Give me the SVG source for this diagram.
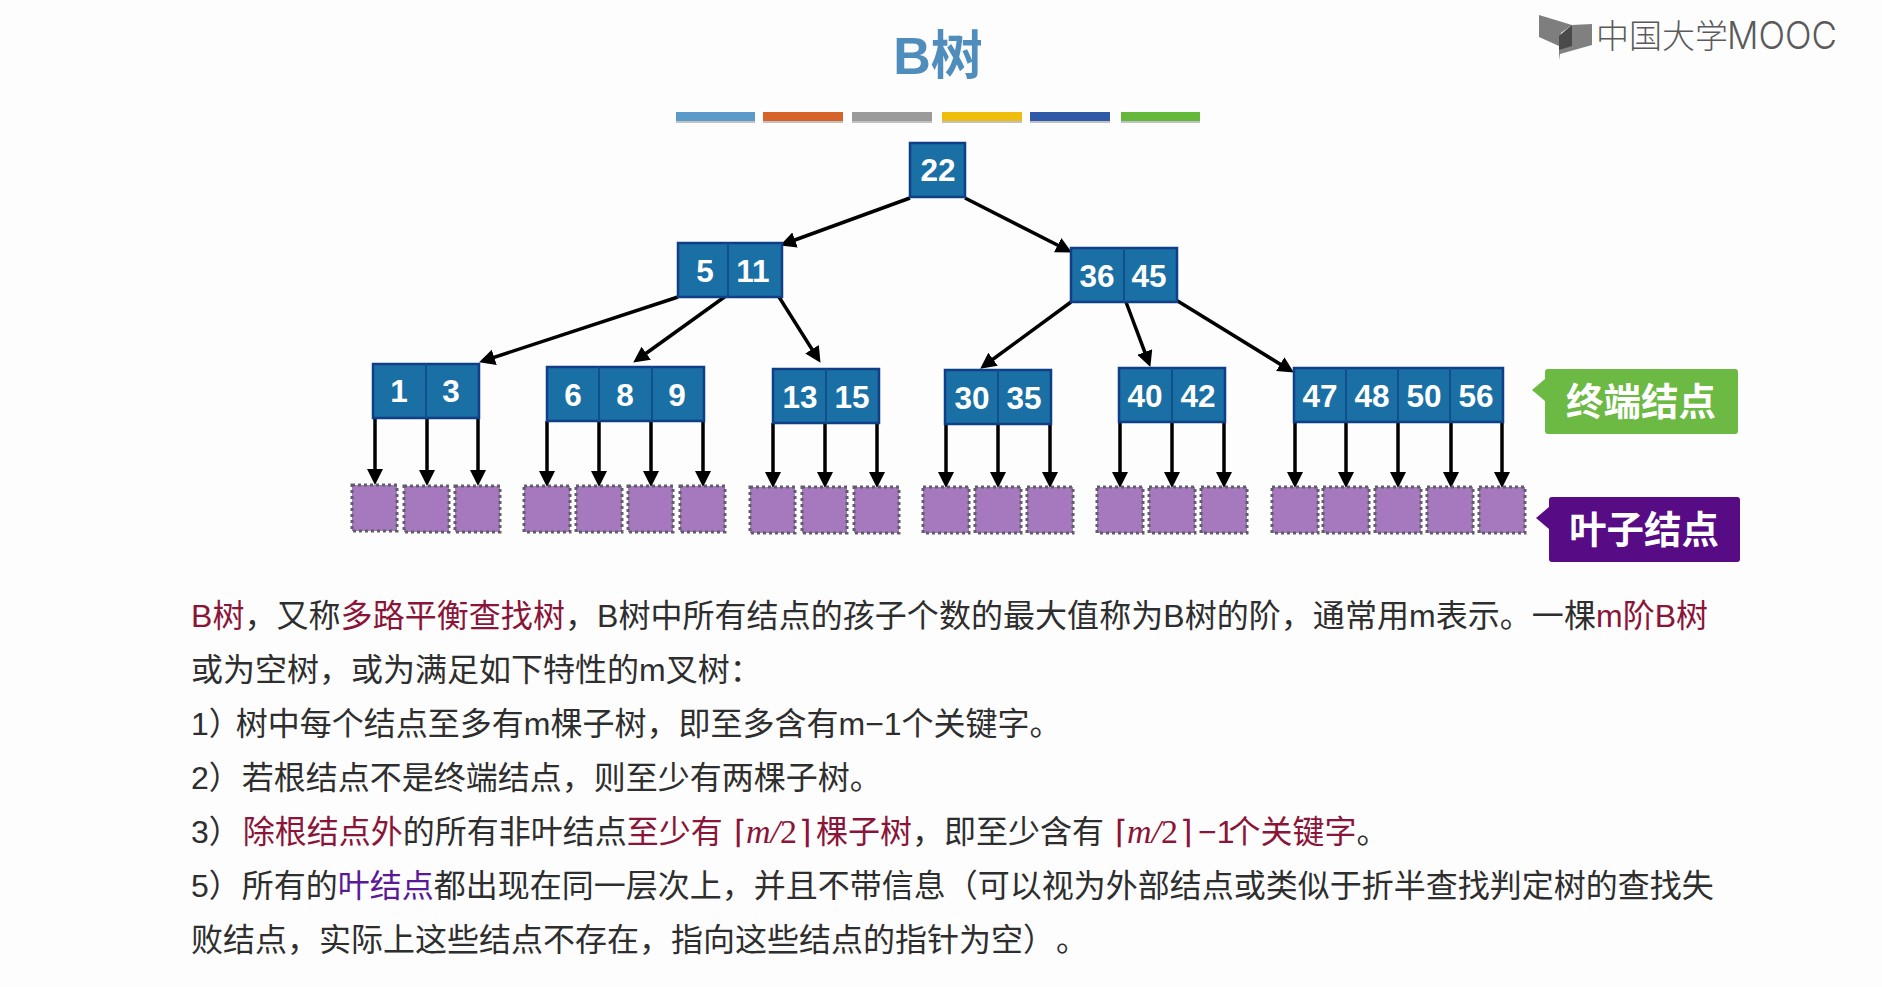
<svg xmlns="http://www.w3.org/2000/svg" width="1882" height="987" viewBox="0 0 1882 987">
<style>
text{font-family:"Liberation Sans","Noto Sans CJK SC",sans-serif}
.n{fill:#1a70a4;stroke:#0f3f86;stroke-width:2.5}
.d{stroke:#0f4f8a;stroke-width:2;fill:none}
.k{fill:#fff;font-size:31.5px;font-weight:bold;text-anchor:middle}
.leaf{fill:#a678bd;stroke:#5f5f6a;stroke-width:3;stroke-dasharray:3 3}
.c{stroke:#000;stroke-width:3.5;fill:none;marker-end:url(#ah)}
.t{font-size:32px;fill:#2e2e2e}
.r{fill:#8a1538}
.p{fill:#5a1a96}
.m{font-family:"Liberation Serif","DejaVu Serif",serif;font-size:34px;fill:#8a1538}
.i{font-style:italic}
.b{font-family:"DejaVu Sans",sans-serif;font-size:32px;fill:#8a1538;font-weight:200}
.tag{fill:#fff;font-size:37.5px;font-weight:bold;text-anchor:middle}
</style>
<defs>
<marker id="ah" markerUnits="userSpaceOnUse" markerWidth="17" markerHeight="17" refX="9" refY="8" orient="auto"><path d="M0,0L16,8L0,16Z" fill="#000"/></marker>
</defs>
<rect width="1882" height="987" fill="#fdfdfd"/>
<g id="logo">
<path d="M1539,15L1572,25L1561,33L1559,46L1539,37Z" fill="#7e7e7e"/>
<path d="M1572,25L1592,24V45L1560,54L1559,60V36Z" fill="#808080"/>
<path d="M1572,25V46L1559,50V36Z" fill="#4a4a4a"/>
<text x="1596" y="48" font-size="33" fill="#5a5a5a" style="font-weight:300">中国大学</text>
<text x="1727" y="49" font-size="38" fill="#5a5a5a" textLength="110" lengthAdjust="spacingAndGlyphs" style="font-family:'Inter','Liberation Sans',sans-serif;font-weight:300">MOOC</text>
</g>
<g id="title">
<text x="938" y="74" font-size="52" font-weight="bold" fill="#4f8dbd" text-anchor="middle">B树</text>
</g>
<g id="bars">
<rect x="676" y="114" width="79" height="9" fill="#999" opacity=".6"/><rect x="676" y="112" width="79" height="9" fill="#5b9bc9"/>
<rect x="763" y="114" width="80" height="9" fill="#999" opacity=".6"/><rect x="763" y="112" width="80" height="9" fill="#d5632a"/>
<rect x="852" y="114" width="80" height="9" fill="#999" opacity=".6"/><rect x="852" y="112" width="80" height="9" fill="#9a9a9a"/>
<rect x="942" y="114" width="80" height="9" fill="#999" opacity=".6"/><rect x="942" y="112" width="80" height="9" fill="#efbe0c"/>
<rect x="1030" y="114" width="80" height="9" fill="#999" opacity=".6"/><rect x="1030" y="112" width="80" height="9" fill="#2f5aa8"/>
<rect x="1121" y="114" width="79" height="9" fill="#999" opacity=".6"/><rect x="1121" y="112" width="79" height="9" fill="#64b83a"/>
</g>
<g id="connectors">
<path class="c" d="M910,198L786.6,243"/>
<path class="c" d="M965,198L1065.7,249.3"/>
<path class="c" d="M678,297L485.7,360.1"/>
<path class="c" d="M730,293L638.9,358.5"/>
<path class="c" d="M779,297L816.8,356.9"/>
<path class="c" d="M1071,302L985.8,364.5"/>
<path class="c" d="M1126,302L1147.9,360.4"/>
<path class="c" d="M1176,300L1287.9,368.9"/>
<path class="c" d="M375,418V478"/><path class="c" d="M427,418V479"/><path class="c" d="M478,418V479"/>
<path class="c" d="M547,421V480"/><path class="c" d="M599,421V480"/><path class="c" d="M651,421V480"/><path class="c" d="M703,421V480"/>
<path class="c" d="M773,423V481"/><path class="c" d="M825,423V481"/><path class="c" d="M877,423V481"/>
<path class="c" d="M946,424V481"/><path class="c" d="M998,424V481"/><path class="c" d="M1050,424V481"/>
<path class="c" d="M1120,422V481"/><path class="c" d="M1172,422V481"/><path class="c" d="M1224,422V481"/>
<path class="c" d="M1295,422V481"/><path class="c" d="M1346,422V481"/><path class="c" d="M1398,422V481"/><path class="c" d="M1451,422V481"/><path class="c" d="M1502,422V481"/>
</g>
<g id="node-22"><rect class="n" x="910" y="143" width="55" height="54"/><text class="k" x="938" y="181">22</text></g>
<g id="node-5-11"><rect class="n" x="678" y="243" width="104" height="54"/><path class="d" d="M728,243V297"/><text class="k" x="705" y="282">5</text><text class="k" x="753" y="282">11</text></g>
<g id="node-36-45"><rect class="n" x="1071" y="248" width="106" height="54"/><path class="d" d="M1124,248V302"/><text class="k" x="1097" y="287">36</text><text class="k" x="1149" y="287">45</text></g>
<g id="node-1-3"><rect class="n" x="373" y="364" width="106" height="54"/><path class="d" d="M426,364V418"/><text class="k" x="399" y="402">1</text><text class="k" x="451" y="402">3</text></g>
<g id="node-6-8-9"><rect class="n" x="547" y="367" width="157" height="54"/><path class="d" d="M599,367V421M652,367V421"/><text class="k" x="573" y="406">6</text><text class="k" x="625" y="406">8</text><text class="k" x="677" y="406">9</text></g>
<g id="node-13-15"><rect class="n" x="773" y="369" width="106" height="54"/><path class="d" d="M826,369V423"/><text class="k" x="800" y="408">13</text><text class="k" x="852" y="408">15</text></g>
<g id="node-30-35"><rect class="n" x="945" y="370" width="106" height="54"/><path class="d" d="M998,370V424"/><text class="k" x="972" y="409">30</text><text class="k" x="1024" y="409">35</text></g>
<g id="node-40-42"><rect class="n" x="1119" y="368" width="106" height="54"/><path class="d" d="M1172,368V422"/><text class="k" x="1145" y="407">40</text><text class="k" x="1198" y="407">42</text></g>
<g id="node-47-48-50-56"><rect class="n" x="1294" y="368" width="209" height="54"/><path class="d" d="M1346,368V422M1398,368V422M1450,368V422"/><text class="k" x="1320" y="407">47</text><text class="k" x="1372" y="407">48</text><text class="k" x="1424" y="407">50</text><text class="k" x="1476" y="407">56</text></g>
<g id="leaves">
<rect class="leaf" x="352" y="485" width="45" height="46"/><rect class="leaf" x="404" y="486" width="45" height="46"/><rect class="leaf" x="455" y="486" width="45" height="46"/>
<rect class="leaf" x="524" y="486" width="46" height="46"/><rect class="leaf" x="576" y="486" width="46" height="46"/><rect class="leaf" x="628" y="486" width="45" height="46"/><rect class="leaf" x="680" y="486" width="45" height="46"/>
<rect class="leaf" x="750" y="487" width="45" height="46"/><rect class="leaf" x="802" y="487" width="45" height="46"/><rect class="leaf" x="854" y="487" width="45" height="46"/>
<rect class="leaf" x="923" y="487" width="46" height="46"/><rect class="leaf" x="975" y="487" width="46" height="46"/><rect class="leaf" x="1027" y="487" width="46" height="46"/>
<rect class="leaf" x="1097" y="487" width="46" height="46"/><rect class="leaf" x="1149" y="487" width="46" height="46"/><rect class="leaf" x="1201" y="487" width="46" height="46"/>
<rect class="leaf" x="1272" y="487" width="46" height="46"/><rect class="leaf" x="1323" y="487" width="46" height="46"/><rect class="leaf" x="1375" y="487" width="46" height="46"/><rect class="leaf" x="1427" y="487" width="46" height="46"/><rect class="leaf" x="1479" y="487" width="46" height="46"/>
</g>
<g id="tag-terminal"><path d="M1548,369H1735Q1738,369 1738,372V431Q1738,434 1735,434H1548Q1545,434 1545,431V401L1532,390L1545,379V372Q1545,369 1548,369Z" fill="#6cb944"/><text class="tag" x="1641" y="415">终端结点</text></g>
<g id="tag-leaf"><path d="M1552,497H1737Q1740,497 1740,500V559Q1740,562 1737,562H1552Q1549,562 1549,559V529L1536,518L1549,507V500Q1549,497 1552,497Z" fill="#570c85"/><text class="tag" x="1644" y="543">叶子结点</text></g>
<g id="body">
<text class="t" x="191" y="627" letter-spacing=".05"><tspan class="r">B树</tspan>，又称<tspan class="r">多路平衡查找树</tspan>，B树中所有结点的孩子个数的最大值称为B树的阶，通常用m表示。一棵<tspan class="r">m阶B树</tspan></text>
<text class="t" x="191" y="681">或为空树，或为满足如下特性的m叉树：</text>
<text class="t" x="191" y="735" dx="0 0 -5">1）树中每个结点至多有m棵子树，即至多含有m−1个关键字。</text>
<text class="t" x="191" y="789" dx="0 0 1">2）若根结点不是终端结点，则至少有两棵子树。</text>
<text class="t" x="191" y="843">3）<tspan class="r" dx="2">除根结点外</tspan>的所有非叶结点<tspan class="r">至少有</tspan></text>
<text class="b" x="734" y="843">⌈</text><text class="m" x="746" y="843"><tspan class="i">m/</tspan>2</text><text class="b" x="799" y="843">⌉</text>
<text class="t" x="816" y="843"><tspan class="r">棵子树</tspan>，即至少含有</text>
<text class="b" x="1115" y="843">⌈</text><text class="m" x="1127" y="843"><tspan class="i">m/</tspan>2</text><text class="b" x="1180" y="843">⌉</text>
<text class="t" x="1198" y="843"><tspan class="r" dx="0 0 -6">−1个关键字</tspan>。</text>
<text class="t" x="191" y="897" dx="0 0 1">5）所有的<tspan class="p">叶结点</tspan>都出现在同一层次上，并且不带信息（可以视为外部结点或类似于折半查找判定树的查找失</text>
<text class="t" x="191" y="951">败结点，实际上这些结点不存在，指向这些结点的指针为空）<tspan dx="17">。</tspan></text>
</g>
</svg>
